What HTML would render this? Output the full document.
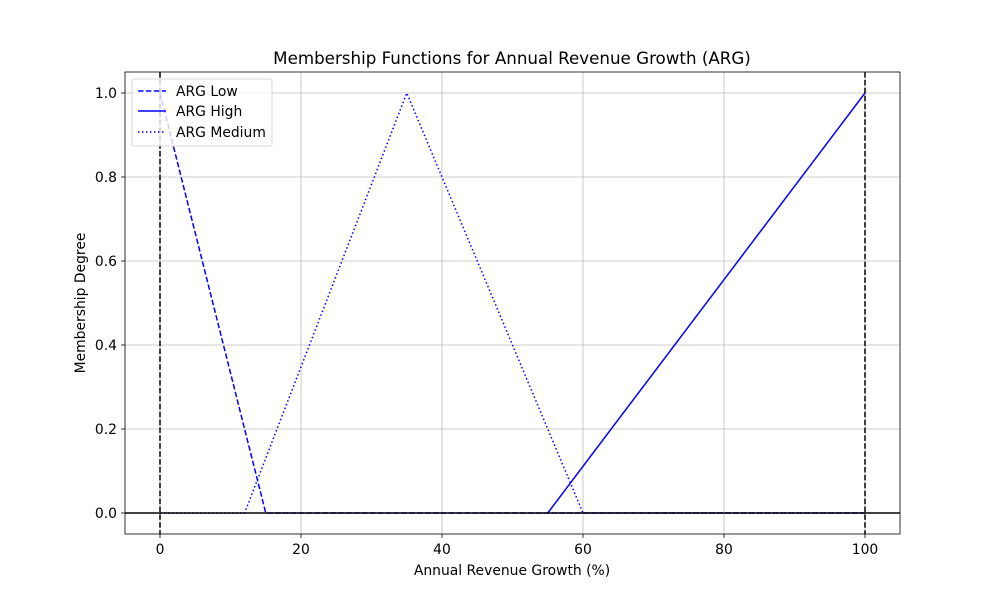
<!DOCTYPE html>
<html><head><meta charset="utf-8"><style>
body{margin:0;background:#fff}
svg{display:block;font-family:"DejaVu Sans","Liberation Sans",sans-serif}
</style></head><body>
<svg width="1000" height="600" xmlns="http://www.w3.org/2000/svg">
<rect width="1000" height="600" fill="#fff"/>
<g stroke="#bdbdbd" stroke-width="0.8">
<line x1="160" y1="72" x2="160" y2="534"/>
<line x1="301" y1="72" x2="301" y2="534"/>
<line x1="442" y1="72" x2="442" y2="534"/>
<line x1="583" y1="72" x2="583" y2="534"/>
<line x1="724" y1="72" x2="724" y2="534"/>
<line x1="865" y1="72" x2="865" y2="534"/>
<line x1="125" y1="513" x2="900" y2="513"/>
<line x1="125" y1="429" x2="900" y2="429"/>
<line x1="125" y1="345" x2="900" y2="345"/>
<line x1="125" y1="261" x2="900" y2="261"/>
<line x1="125" y1="177" x2="900" y2="177"/>
<line x1="125" y1="93" x2="900" y2="93"/>
</g>
<g fill="none" stroke="#0000ff" stroke-width="1.5">
<polyline points="160,93 265.75,513 865,513" stroke-dasharray="5.5,2.4"/>
<polyline points="547.75,513 865,93"/>
<polyline points="160,513 244.6,513 406.75,93 583,513 865,513" stroke-dasharray="1.5,2.5"/>
</g>
<line x1="125" y1="513" x2="900" y2="513" stroke="#000" stroke-width="1.5"/>
<line x1="160" y1="72" x2="160" y2="534" stroke="#000" stroke-width="1.5" stroke-dasharray="5.5,2.4"/>
<line x1="865" y1="72" x2="865" y2="534" stroke="#000" stroke-width="1.5" stroke-dasharray="5.5,2.4"/>
<rect x="125" y="72" width="775" height="462" fill="none" stroke="#000" stroke-width="0.8"/>
<g stroke="#000" stroke-width="0.8">
<line x1="160" y1="534" x2="160" y2="538"/><line x1="301" y1="534" x2="301" y2="538"/>
<line x1="442" y1="534" x2="442" y2="538"/><line x1="583" y1="534" x2="583" y2="538"/>
<line x1="724" y1="534" x2="724" y2="538"/><line x1="865" y1="534" x2="865" y2="538"/>
<line x1="121" y1="513" x2="125" y2="513"/><line x1="121" y1="429" x2="125" y2="429"/>
<line x1="121" y1="345" x2="125" y2="345"/><line x1="121" y1="261" x2="125" y2="261"/>
<line x1="121" y1="177" x2="125" y2="177"/><line x1="121" y1="93" x2="125" y2="93"/>
</g>
<g font-size="13.9" fill="#000" text-anchor="middle">
<text x="160" y="554">0</text><text x="301" y="554">20</text><text x="442" y="554">40</text>
<text x="583" y="554">60</text><text x="724" y="554">80</text><text x="865" y="554">100</text>
</g>
<g font-size="13.9" fill="#000" text-anchor="end">
<text x="117" y="518">0.0</text><text x="117" y="434">0.2</text><text x="117" y="350">0.4</text>
<text x="117" y="266">0.6</text><text x="117" y="182">0.8</text><text x="117" y="98">1.0</text>
</g>
<text x="512" y="575" font-size="13.9" text-anchor="middle">Annual Revenue Growth (%)</text>
<text transform="translate(85,303) rotate(-90)" font-size="13.9" text-anchor="middle">Membership Degree</text>
<text x="512" y="64" font-size="16.7" text-anchor="middle">Membership Functions for Annual Revenue Growth (ARG)</text>
<rect x="132" y="79" width="140" height="67" rx="2" fill="#fff" fill-opacity="0.8" stroke="#ccc" stroke-width="0.8"/>
<g stroke="#0000ff" stroke-width="1.5">
<line x1="138" y1="91" x2="166" y2="91" stroke-dasharray="5.5,2.4"/>
<line x1="138" y1="111" x2="166" y2="111"/>
<line x1="138" y1="132" x2="166" y2="132" stroke-dasharray="1.5,2.5"/>
</g>
<g font-size="13.9" fill="#000">
<text x="176" y="96">ARG Low</text>
<text x="176" y="116">ARG High</text>
<text x="176" y="137">ARG Medium</text>
</g>
</svg>
</body></html>
